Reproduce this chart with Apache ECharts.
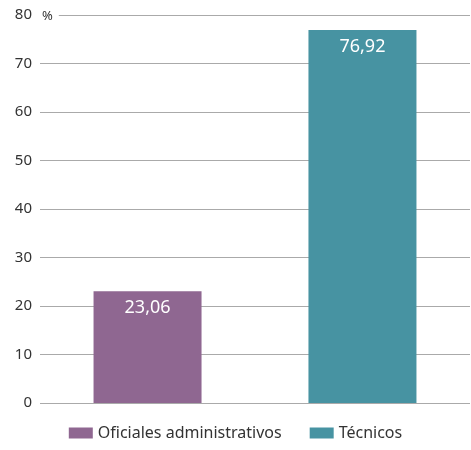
<!DOCTYPE html>
<html><head><meta charset="utf-8">
<script src="https://cdn.jsdelivr.net/npm/echarts@6/dist/echarts.min.js"></script>
<style>html,body{margin:0;padding:0;background:#fff}#c{width:471px;height:450px}</style>
</head><body><div id="c"></div>
<script>
const seriesNames = ['Oficiales administrativos', 'Técnicos'];
const values = [23.06, 76.92];
const colors = ['#8F6791', '#4793A2'];
const yTicks = [0, 10, 20, 30, 40, 50, 60, 70, 80];

const chart = echarts.init(document.getElementById('c'));
chart.setOption({
  animation: false,
  grid: { left: 40, right: 1, top: 15, bottom: 47 },
  legend: {
    bottom: 4, left: 'center', itemWidth: 24, itemHeight: 11, itemGap: 28,
    icon: 'rect',
    textStyle: { fontFamily: 'Noto Sans', fontSize: 16, color: '#333' },
    data: seriesNames
  },
  xAxis: { type: 'category', data: [''], show: false },
  yAxis: {
    type: 'value', min: yTicks[0], max: yTicks[yTicks.length - 1], interval: 10,
    axisLine: { show: false }, axisTick: { show: false },
    axisLabel: { color: '#333', fontSize: 15, margin: 8, fontFamily: 'Noto Sans' },
    splitLine: { lineStyle: { color: '#aaa', width: 1 } }
  },
  graphic: [{
    type: 'text', left: 40, top: 9, z: 100,
    style: { text: '%', fontSize: 13, fill: '#333', fontFamily: 'Noto Sans', backgroundColor: '#fff',
      padding: [1, 6, 1, 2] }
  }],
  series: seriesNames.map((n, i) => ({
    name: n, type: 'bar', barWidth: 108, barGap: '99%',
    itemStyle: { color: colors[i] },
    label: { show: true, position: 'insideTop', distance: 8, color: '#fff', fontSize: 18, fontFamily: 'Noto Sans',
      formatter: p => p.value.toFixed(2).replace('.', ',') },
    data: [values[i]]
  }))
});
</script></body></html>
